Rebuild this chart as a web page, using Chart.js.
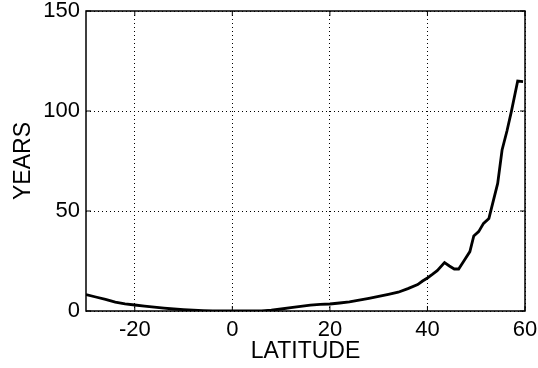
<!DOCTYPE html>
<html>
<head>
<meta charset="utf-8">
<script src="https://cdn.jsdelivr.net/npm/chart.js@4/dist/chart.umd.min.js"></script>
<style>
  html, body { margin: 0; padding: 0; background: #fff; }
  #wrap { width: 538px; height: 368px; }
</style>
</head>
<body>
<div id="wrap"><canvas id="yearsChart" width="538" height="368"></canvas></div>
<script>
// Data
const latitudes = [-30, -28, -26, -24, -22, -20, -18, -16, -14, -12, -10, -8, -6, -4, -2, 0, 2, 4, 6, 8,
    10, 12, 14, 16, 18, 20, 22, 24, 26, 28, 30, 32, 34, 36, 38, 39, 40, 41, 42, 43.5, 44.5, 45.5, 46.4,
    47.4, 48.7, 49.5, 50.5, 51.5, 52.6, 54.4, 55.3, 56.3, 57.2, 58.5, 59.6];
const years = [8.2, 7, 5.8, 4.4, 3.6, 3, 2.4, 1.9, 1.4, 1.0, 0.7, 0.4, 0.2, 0, 0, 0, 0, 0, 0.1, 0.4,
    1, 1.7, 2.3, 2.9, 3.3, 3.5, 4.0, 4.6, 5.4, 6.3, 7.3, 8.3, 9.4, 11.2, 13.2, 15, 16.5, 18.3, 20.2, 24.2, 22.5, 21, 21,
    24.7, 29.7, 37.5, 39.7, 43.8, 46.3, 63.8, 80.5, 90, 99.7, 115, 114.7];
const xTicks = [-20, 0, 20, 40, 60];
const yTicks = [0, 50, 100, 150];

const font = { family: 'Liberation Sans, Arial, sans-serif', size: 22 };
const titleFont = { family: 'Liberation Sans, Arial, sans-serif', size: 23, lineHeight: 1.2 };

// box round the plot and short inward tick marks on all sides
const frame = {
    id: 'frame',
    afterDraw(chart) {
        const { ctx, chartArea: a, scales } = chart;
        ctx.save();
        ctx.strokeStyle = '#000';
        ctx.lineWidth = 1.5;
        ctx.strokeRect(a.left, a.top, a.right - a.left, a.bottom - a.top);
        ctx.lineWidth = 1;
        ctx.beginPath();
        xTicks.forEach(v => {
            const x = scales.x.getPixelForValue(v);
            ctx.moveTo(x, a.bottom); ctx.lineTo(x, a.bottom - 5);
            ctx.moveTo(x, a.top); ctx.lineTo(x, a.top + 5);
        });
        yTicks.forEach(v => {
            const y = scales.y.getPixelForValue(v);
            ctx.moveTo(a.left, y); ctx.lineTo(a.left + 5, y);
            ctx.moveTo(a.right, y); ctx.lineTo(a.right - 5, y);
        });
        ctx.stroke();
        ctx.restore();
    }
};

// no extra room for labels hanging past the plot ends
function noOverhang(s) {
    s.paddingTop = 0; s.paddingBottom = 0; s.paddingLeft = 0; s.paddingRight = 0;
}

const ctx = document.getElementById('yearsChart');
new Chart(ctx, {
    type: 'line',
    data: {
        datasets: [{
            data: latitudes.map((lat, i) => ({ x: lat, y: years[i] })),
            borderColor: '#000',
            borderWidth: 2.8,
            pointRadius: 0,
            tension: 0,
            fill: false
        }]
    },
    options: {
        responsive: false,
        animation: false,
        layout: { padding: { top: 11, right: 13, left: 0, bottom: 0 } },
        plugins: { legend: { display: false }, tooltip: { enabled: false } },
        scales: {
            x: {
                type: 'linear',
                min: -30,
                max: 60,
                afterBuildTicks: s => { s.ticks = xTicks.map(v => ({ value: v })); },
                afterFit: s => { s.height = 57; noOverhang(s); },
                ticks: { color: '#000', font: font, padding: 6, maxRotation: 0 },
                grid: { color: '#000', lineWidth: 1, drawTicks: false },
                border: { display: false, dash: [1, 3] },
                title: { display: true, text: 'LATITUDE', color: '#000', font: titleFont, padding: { top: 0, bottom: 3 } }
            },
            y: {
                min: 0,
                max: 150,
                afterBuildTicks: s => { s.ticks = yTicks.map(v => ({ value: v })); },
                afterFit: s => { s.width = 86; noOverhang(s); },
                ticks: { color: '#000', font: font, padding: 6 },
                grid: { color: '#000', lineWidth: 1, drawTicks: false },
                border: { display: false, dash: [1, 3] },
                title: { display: true, text: 'YEARS', color: '#000', font: titleFont, padding: { top: 10, bottom: 0 } }
            }
        }
    },
    plugins: [frame]
});
</script>
</body>
</html>
